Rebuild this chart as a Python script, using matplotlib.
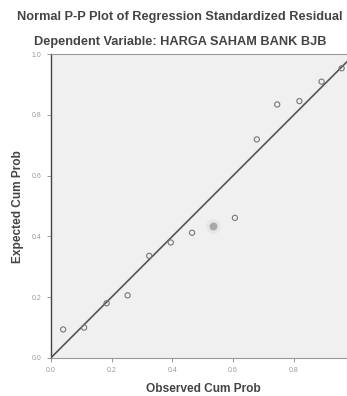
import matplotlib
matplotlib.use("Agg")
import matplotlib.pyplot as plt

observed = [0.041, 0.110, 0.184, 0.253, 0.324, 0.395, 0.465, 0.535, 0.606, 0.678, 0.745, 0.818, 0.891, 0.957]
expected = [0.094, 0.100, 0.180, 0.206, 0.336, 0.380, 0.412, 0.435, 0.461, 0.719, 0.834, 0.845, 0.909, 0.953]
highlight_index = 7
x_tick_values = [0.0, 0.2, 0.4, 0.6, 0.8]
x_tick_labels = ["0.0", "0.2", "0.4", "0.6", "0.8"]
y_tick_values = [0.0, 0.2, 0.4, 0.6, 0.8, 1.0]
y_tick_labels = ["0.0", "0.2", "0.4", "0.6", "0.8", "1.0"]

plt.rcParams['font.family'] = ['Liberation Sans', 'DejaVu Sans']

fig = plt.figure(figsize=(3.47, 3.96), dpi=100)
fig.patch.set_facecolor('white')
ax = fig.add_axes([50.7 / 347, 38 / 396, 304 / 347, 304 / 396])
ax.set_facecolor('#f0f0f0')
ax.set_xlim(0, 1)
ax.set_ylim(0, 1)

ax.plot([0, 1], [0, 1], color='#555555', lw=1.2, zorder=2)

xs = [o for i, o in enumerate(observed) if i != highlight_index]
ys = [e for i, e in enumerate(expected) if i != highlight_index]
ax.scatter(xs, ys, s=14, facecolors='none', edgecolors='#777777', linewidths=0.8, zorder=3)
ax.scatter([observed[highlight_index]], [expected[highlight_index]], s=90, color='#e6e6e6', zorder=3)
ax.scatter([observed[highlight_index]], [expected[highlight_index]], s=22, color='#a8a8a8', zorder=4)

ax.set_xticks(x_tick_values)
ax.set_xticklabels(x_tick_labels)
ax.set_yticks(y_tick_values)
ax.set_yticklabels(y_tick_labels)
ax.tick_params(labelsize=5, colors='#999999', length=3, width=0.7)

ax.spines['left'].set_color('#444444')
ax.spines['left'].set_linewidth(1.0)
ax.spines['bottom'].set_color('#999999')
ax.spines['top'].set_color('#999999')
ax.spines['right'].set_visible(False)

fig.text(180 / 347, 1 - 17 / 396, "Normal P-P Plot of Regression Standardized Residual",
         ha='center', va='center', fontsize=9.2, fontweight='bold', color='#444444')
fig.text(180 / 347, 1 - 42 / 396, "Dependent Variable: HARGA SAHAM BANK BJB",
         ha='center', va='center', fontsize=9.2, fontweight='bold', color='#444444')
fig.text(203 / 347, 1 - 389 / 396, "Observed Cum Prob",
         ha='center', va='center', fontsize=8.6, fontweight='bold', color='#444444')
fig.text(18 / 347, 1 - 207 / 396, "Expected Cum Prob", rotation=90,
         ha='center', va='center', fontsize=8.6, fontweight='bold', color='#444444')

fig.savefig("out.png", dpi=100)
